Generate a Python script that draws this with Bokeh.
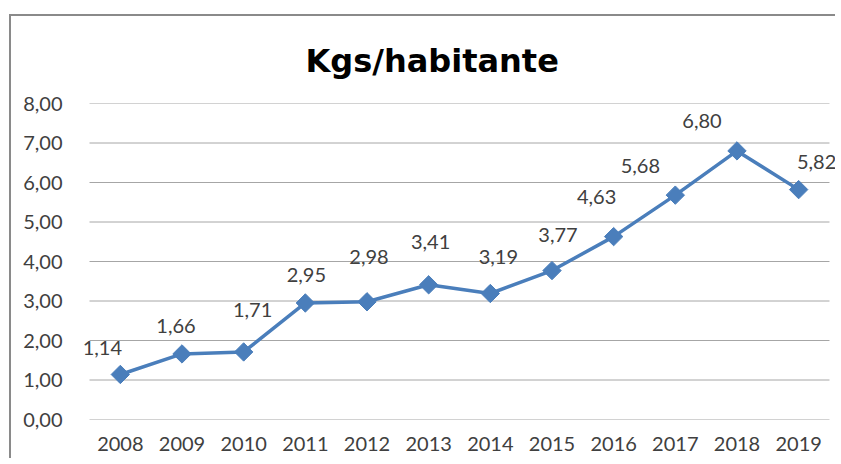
import math
from bokeh.plotting import figure
from bokeh.models import ColumnDataSource, LabelSet, FixedTicker, Range1d
from bokeh.core.properties import value
from bokeh.embed import file_html
from bokeh.resources import INLINE

years = ["2008", "2009", "2010", "2011", "2012", "2013", "2014", "2015", "2016", "2017", "2018", "2019"]
values = [1.14, 1.66, 1.71, 2.95, 2.98, 3.41, 3.19, 3.77, 4.63, 5.68, 6.80, 5.82]
y_ticks = [0, 1, 2, 3, 4, 5, 6, 7, 8]
y_tick_labels = ["0,00", "1,00", "2,00", "3,00", "4,00", "5,00", "6,00", "7,00", "8,00"]
title_text = "Kgs/habitante"

# label placement (style, pixels)
label_dx = [-18, -6, 9, 1, 2, 2, 8, 6, -17, -35, -35, 18]
label_dy = [26, 28, 42, 28, 45, 43, 36, 36, 40, 29, 30, 28]

FONT = "Lato"
TXT = "#404040"
BLUE = "#4A7EBB"
GRID = "#a6a6a6"

n = len(years)
xpos = [i + 0.5 for i in range(n)]          # category centres
src = ColumnDataSource(dict(
    x=xpos, y=values,
    lbl=[f"{v:.2f}".replace(".", ",") for v in values],
    dx=label_dx, dy=label_dy,
))
grid_src = ColumnDataSource(dict(x0=[0] * len(y_ticks), x1=[n] * len(y_ticks), y=y_ticks))

# frame is a little wider than the category band so edge labels are not clipped
p = figure(x_range=Range1d(-0.146, n + 0.13), y_range=Range1d(0, 8),
           width=826, height=444, output_backend="svg", toolbar_location=None,
           min_border_left=69, min_border_right=0, min_border_top=87, min_border_bottom=41,
           title=title_text)
p.styles = {"border-top": "2px solid #8a8a8a", "border-left": "2px solid #8a8a8a",
            "margin-top": "14px", "margin-left": "9px"}
p.title.align = "left"
p.title.offset = 225
p.title.standoff = 47
p.title.text_font = "DejaVu Sans"
p.title.text_font_style = "bold"
p.title.text_font_size = "32px"
p.title.text_color = "black"

p.outline_line_color = None
p.background_fill_color = "white"
p.xgrid.grid_line_color = None
p.ygrid.grid_line_color = None

p.segment(x0="x0", y0="y", x1="x1", y1="y", source=grid_src, line_color=GRID, line_width=1)

p.yaxis.ticker = FixedTicker(ticks=y_ticks)
p.yaxis.major_label_overrides = {t: l for t, l in zip(y_ticks, y_tick_labels)}
p.xaxis.ticker = FixedTicker(ticks=xpos)
p.xaxis.major_label_overrides = {x: y for x, y in zip(xpos, years)}

for ax in (p.xaxis[0], p.yaxis[0]):
    ax.major_tick_line_color = None
    ax.minor_tick_line_color = None
    ax.axis_line_color = None
    ax.major_label_text_font = FONT
    ax.major_label_text_font_size = "20px"
    ax.major_label_text_color = TXT
p.yaxis.major_label_standoff = 12
p.xaxis.major_label_standoff = 11

p.line("x", "y", source=src, line_color=BLUE, line_width=3.5)
p.scatter("x", "y", source=src, marker="square", angle=math.pi / 4, size=13,
          fill_color=BLUE, line_color=BLUE)

labels = LabelSet(x="x", y="y", text="lbl", source=src, x_offset="dx", y_offset="dy",
                  text_align="center", text_baseline="middle",
                  text_font=value(FONT), text_font_size=value("20px"), text_color=value(TXT))
p.add_layout(labels)

open("out.html", "w").write(file_html(p, INLINE))
